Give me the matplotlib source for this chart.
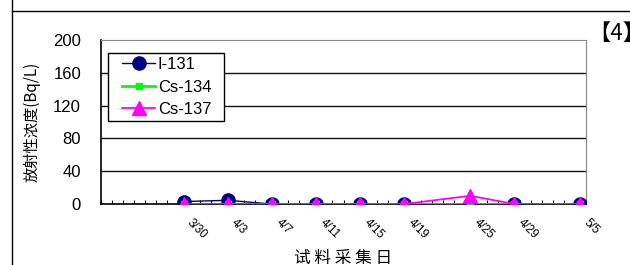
import matplotlib
matplotlib.use("Agg")
import matplotlib.pyplot as plt
import matplotlib.dates as mdates
import matplotlib.transforms as mtransforms
from matplotlib.lines import Line2D
from matplotlib.patches import Rectangle
import numpy as np
import datetime as dt

plt.rcParams['font.family'] = ['Liberation Sans', 'Noto Sans CJK SC', 'DejaVu Sans']

# ---- data ----
date_labels = ["3/30", "4/3", "4/7", "4/11", "4/15", "4/19", "4/25", "4/29", "5/5"]
i131 = [3, 4.5, 0, 0, 0, 0, 0, 0, 0]
cs134 = [0, 0, 0, 0, 0, 0, 0, 0, 0]
cs137 = [0, 0, 0, 0, 0, 0, 10, 0, 0]
yticks = [0, 40, 80, 120, 160, 200]

dates = [dt.datetime(2011, int(s.split('/')[0]), int(s.split('/')[1])) for s in date_labels]
dnum = mdates.date2num(dates)

fig = plt.figure(figsize=(6.3, 2.65), dpi=100)
W, H = 630, 265
ax = fig.add_axes([101 / W, 1 - 204 / H, (586 - 101) / W, (204 - 40) / H])

ax.plot(dnum, i131, color='#000080', lw=1.0, marker='o', ms=9.5,
        mfc='#000080', mec='#000080', label='I-131', zorder=3)
ax.plot(dnum, cs134, color='#00FF00', lw=2.0, marker='s', ms=5,
        mfc='#00FF00', mec='#00FF00', label='Cs-134', zorder=4)
ax.plot(dnum, cs137, color='#FF00FF', lw=1.3, marker='^', ms=10,
        mfc='#FF00FF', mec='#FF00FF', label='Cs-137', zorder=5)

ax.set_xlim(dnum[0] - 7.5, dnum[-1] + 0.5)
ax.set_ylim(0, 200)
ax.set_yticks(yticks)
ax.tick_params(axis='y', length=0, pad=14.4, labelsize=12)
ax.set_xticks(dnum)
ax.set_xticklabels(date_labels, rotation=-45, ha='left', va='top',
                   rotation_mode='anchor', fontsize=8.5)
ax.tick_params(axis='x', which='major', length=0, pad=9)
shift = mtransforms.ScaledTranslation(7 / 72, 0, fig.dpi_scale_trans)
for t in ax.get_xticklabels():
    t.set_transform(t.get_transform() + shift)
ax.set_xticks(np.arange(dnum[0] - 7.5, dnum[-1] + 0.6, 1.0), minor=True)
ax.tick_params(axis='x', which='minor', direction='in', length=3, width=0.8, color='black')

for y in yticks[1:-1]:
    ax.axhline(y, color='#111111', lw=1.0, zorder=1)

ax.spines['left'].set_color('black')
ax.spines['bottom'].set_color('black')
ax.spines['left'].set_linewidth(1.2)
ax.spines['bottom'].set_linewidth(1.2)
ax.spines['top'].set_color('#888888')
ax.spines['right'].set_color('#888888')

ax.set_ylabel('放射性浓度(Bq/L)', fontsize=11,
              family=['Noto Sans CJK SC', 'DejaVu Sans'])
ax.yaxis.set_label_coords(-(101 - 41) / 485, (204 - 122) / 164)
ax.set_xlabel('试 料 采 集 日', fontsize=12,
              family=['Noto Sans CJK SC', 'DejaVu Sans'])
ax.xaxis.set_label_coords((343 - 101) / 485, -(250 - 204) / 164)
ax.xaxis.label.set_verticalalignment('top')

leg = ax.legend(loc='upper left', bbox_to_anchor=((122 - 101) / 485, (204 - 57) / 164),
                frameon=False, fontsize=12, handlelength=2.0,
                borderpad=0, labelspacing=0.45, handletextpad=0.15, borderaxespad=0)
leg.set_zorder(7)
ax.add_patch(Rectangle(((108 - 101) / 485, (204 - 121) / 164), (224 - 108) / 485,
                       (121 - 53) / 164, transform=ax.transAxes, facecolor='white',
                       edgecolor='black', lw=1.0, zorder=6))

# outer frame lines
fig.add_artist(Line2D([12 / W, 12 / W], [0, 1], color='black', lw=1.0))
fig.add_artist(Line2D([12 / W, 1], [1 - 11 / H, 1 - 11 / H], color='black', lw=1.0))
fig.text(588 / W, 1 - 33 / H, '【4】', fontsize=16, va='center', ha='left',
         family=['Noto Sans CJK SC', 'DejaVu Sans'])

fig.savefig('out.png', dpi=100)
